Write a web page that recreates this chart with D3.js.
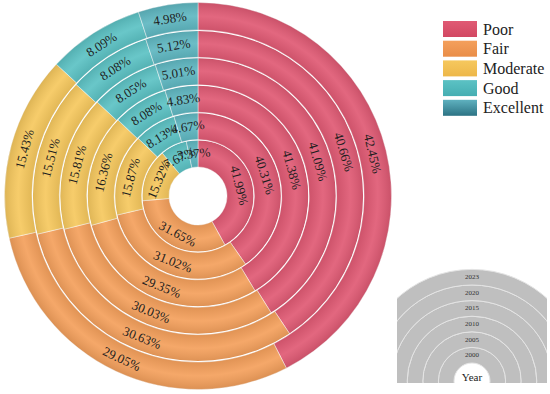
<!DOCTYPE html>
<html>
<head>
<meta charset="utf-8">
<script src="https://cdn.jsdelivr.net/npm/d3@7"></script>
<style>
  body { margin: 0; background: #fff; }
  svg { display: block; }
</style>
</head>
<body>
<script>
var width = 550,
    height = 394;

// data, inner ring = first year
var years = ['2000', '2005', '2010', '2015', '2020', '2023'];
var categories = ['Poor', 'Fair', 'Moderate', 'Good', 'Excellent'];
var poor      = [41.99, 40.31, 41.38, 41.09, 40.66, 42.45];
var fair      = [31.65, 31.02, 29.35, 30.03, 30.63, 29.05];
var moderate  = [15.32, 15.87, 16.36, 15.81, 15.51, 15.43];
var good      = [7.67, 8.13, 8.08, 8.05, 8.08, 8.09];
var excellent = [3.37, 4.67, 4.83, 5.01, 5.12, 4.98];

var series = [poor, fair, moderate, good, excellent];

var svg = d3.select('body')
    .append('svg')
    .attr('width', width)
    .attr('height', height);

var defs = svg.append('defs');

var cx = 198, cy = 196;

var color = d3.scaleOrdinal()
    .domain(categories)
    .range(['#e05a74', '#f4a05c', '#f6c85e', '#5cc2c4', '#4696a8']);

var radius = d3.scaleBand()
    .domain(years)
    .range([29, 193.5]);

// gradient for the darker excellent cells
var exGrad = defs.append('linearGradient')
    .attr('id', 'exGrad')
    .attr('gradientUnits', 'userSpaceOnUse')
    .attr('x1', cx - 55).attr('y1', 0)
    .attr('x2', cx).attr('y2', 0);
exGrad.append('stop').attr('offset', 0).attr('stop-color', '#5fb7c1');
exGrad.append('stop').attr('offset', 1).attr('stop-color', '#2f7788');

// soft shading across each ring
years.forEach(function(y, i) {
  var r0 = radius(y), r1 = r0 + radius.bandwidth();
  var g = defs.append('radialGradient')
      .attr('id', 'ringShade' + i)
      .attr('gradientUnits', 'userSpaceOnUse')
      .attr('cx', 0).attr('cy', 0).attr('r', r1);
  g.append('stop').attr('offset', r0 / r1).attr('stop-color', '#000').attr('stop-opacity', 0.08);
  g.append('stop').attr('offset', (r0 + r1) / 2 / r1).attr('stop-color', '#fff').attr('stop-opacity', 0.08);
  g.append('stop').attr('offset', 1).attr('stop-color', '#000').attr('stop-opacity', 0.1);
});

var pie = d3.pie().sort(null).value(function(d) { return d.value; });
var arc = d3.arc();

var chart = svg.append('g')
    .attr('transform', 'translate(' + cx + ',' + cy + ')');

years.forEach(function(y, i) {
  var rows = categories.map(function(c, j) {
    return {cat: c, value: series[j][i]};
  });
  var r0 = radius(y), r1 = r0 + radius.bandwidth();
  var slices = pie(rows);
  var ring = chart.append('g').attr('class', 'ring');

  ring.selectAll('path.slice')
    .data(slices)
    .enter()
    .append('path')
    .attr('class', 'slice')
    .attr('d', function(d) {
      return arc({innerRadius: r0, outerRadius: r1, startAngle: d.startAngle, endAngle: d.endAngle});
    })
    .attr('fill', function(d) {
      return d.data.cat === 'Excellent' ? 'url(#exGrad)' : color(d.data.cat);
    })
    .attr('stroke', 'rgba(255,255,255,0.6)')
    .attr('stroke-width', 0.8);

  ring.append('path')
    .attr('d', arc({innerRadius: r0, outerRadius: r1, startAngle: 0, endAngle: 2 * Math.PI}))
    .attr('fill', 'url(#ringShade' + i + ')');

  ring.append('circle')
    .attr('r', r1)
    .attr('fill', 'none')
    .attr('stroke', i < years.length - 1 ? '#fff' : 'none')
    .attr('stroke-width', 2);

  ring.selectAll('text')
    .data(slices)
    .enter()
    .append('text')
    .attr('transform', function(d) {
      var c = arc.centroid({innerRadius: r0, outerRadius: r1, startAngle: d.startAngle, endAngle: d.endAngle});
      var a = (d.startAngle + d.endAngle) / 2 * 180 / Math.PI;
      if (a > 90 && a < 270) a -= 180;
      else if (a >= 270) a -= 360;
      return 'translate(' + c[0] + ',' + c[1] + ') rotate(' + a + ')';
    })
    .attr('text-anchor', 'middle')
    .attr('dominant-baseline', 'central')
    .attr('font-family', '"Liberation Serif", "Times New Roman", serif')
    .attr('font-size', 13)
    .attr('fill', '#1e1e1e')
    .text(function(d) { return d.data.value.toFixed(2) + '%'; });
});

// legend
var legend = svg.append('g').attr('transform', 'translate(443,21)');
var legendShades = ['#d24862', '#e98d48', '#edb749', '#45aeb2', '#2c7384'];
categories.forEach(function(c, i) {
  var lg = defs.append('linearGradient')
      .attr('id', 'lg' + i)
      .attr('x1', 0).attr('y1', 0).attr('x2', 0).attr('y2', 1);
  lg.append('stop').attr('offset', 0).attr('stop-color', i === 4 ? '#5fb1bf' : color(c));
  lg.append('stop').attr('offset', 1).attr('stop-color', legendShades[i]);
});
var items = legend.selectAll('g')
    .data(categories)
    .enter()
    .append('g')
    .attr('transform', function(d, i) { return 'translate(0,' + i * 19.7 + ')'; });
items.append('rect')
    .attr('width', 34)
    .attr('height', 16)
    .attr('fill', function(d, i) { return 'url(#lg' + i + ')'; });
items.append('text')
    .attr('x', 40)
    .attr('y', 8)
    .attr('dominant-baseline', 'central')
    .attr('font-family', '"Liberation Serif", "Times New Roman", serif')
    .attr('font-size', 16)
    .attr('fill', '#222')
    .text(function(d) { return d; });

// year key (bottom right)
var kx = 472, ky = 381;
var keyRadius = d3.scaleBand()
    .domain(years)
    .range([18, 111.6]);

defs.append('clipPath')
    .attr('id', 'keyClip')
    .append('rect')
    .attr('x', 397).attr('y', 260)
    .attr('width', 150).attr('height', 383 - 260);

var key = svg.append('g')
    .attr('clip-path', 'url(#keyClip)')
    .append('g')
    .attr('transform', 'translate(' + kx + ',' + ky + ')');

key.selectAll('path')
    .data(years)
    .enter()
    .append('path')
    .attr('d', function(y) {
      return arc({innerRadius: keyRadius(y), outerRadius: keyRadius(y) + keyRadius.bandwidth(), startAngle: 0, endAngle: 2 * Math.PI});
    })
    .attr('fill', '#bfbfbf')
    .attr('stroke', '#e4e4e4')
    .attr('stroke-width', 1);

key.selectAll('text.yr')
    .data(years)
    .enter()
    .append('text')
    .attr('class', 'yr')
    .attr('x', 0)
    .attr('y', function(y) { return -(keyRadius(y) + keyRadius.bandwidth() / 2); })
    .attr('text-anchor', 'middle')
    .attr('dominant-baseline', 'central')
    .attr('font-family', '"Liberation Serif", "Times New Roman", serif')
    .attr('font-size', 7)
    .attr('fill', '#333')
    .text(function(y) { return y; });

key.append('text')
    .attr('x', 0)
    .attr('y', -4)
    .attr('text-anchor', 'middle')
    .attr('dominant-baseline', 'central')
    .attr('font-family', '"Liberation Serif", "Times New Roman", serif')
    .attr('font-size', 11)
    .attr('fill', '#222')
    .text('Year');
</script>
</body>
</html>
